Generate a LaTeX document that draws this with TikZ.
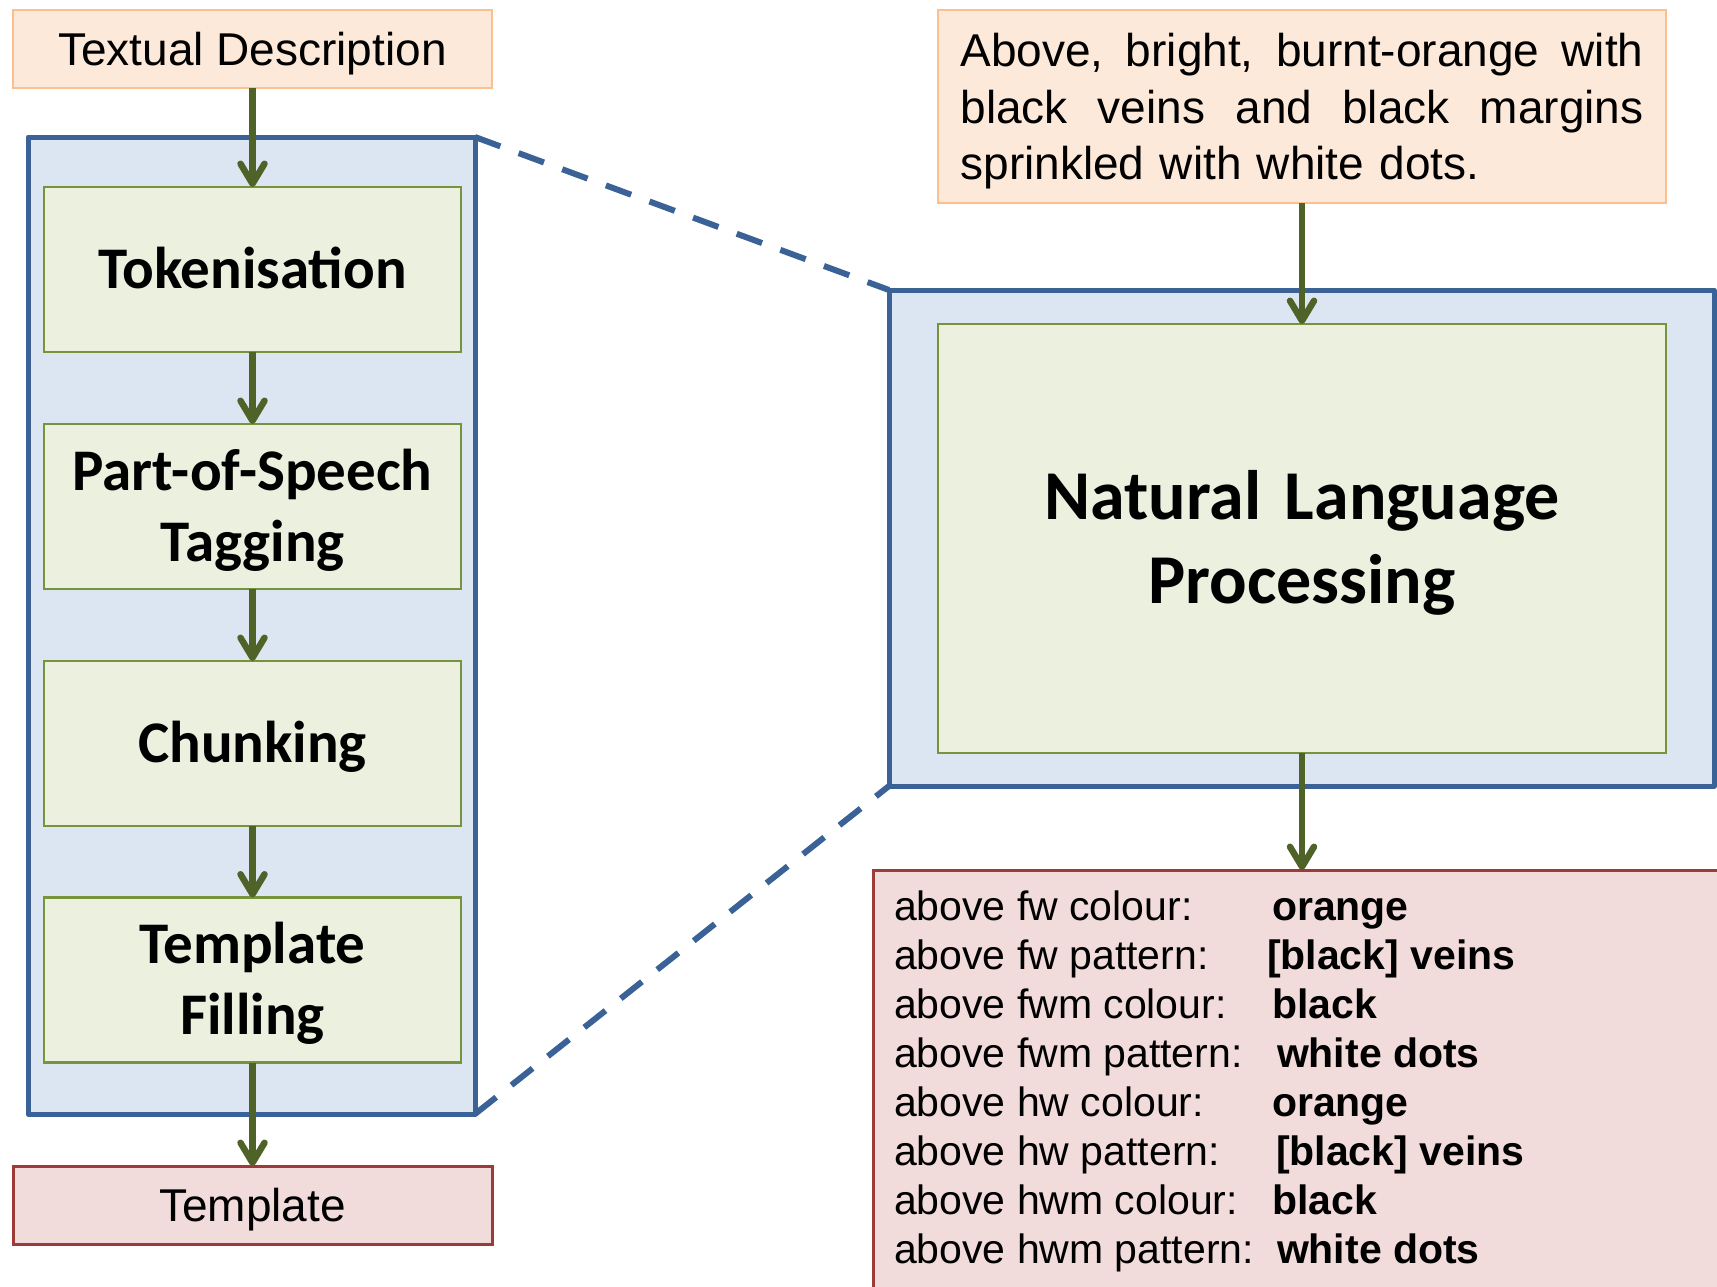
\documentclass[tikz,border=0pt]{standalone}
\usepackage{fontspec}
\setmainfont{Liberation Sans}
\newfontfamily\carlito{Carlito}
\usetikzlibrary{arrows.meta}

\definecolor{peachfill}{HTML}{FDE9D9}
\definecolor{peachdraw}{HTML}{FAC090}
\definecolor{bluefill}{HTML}{DCE6F2}
\definecolor{bluedraw}{HTML}{3A6296}
\definecolor{greenfill}{HTML}{EBF1DE}
\definecolor{greendraw}{HTML}{77933C}
\definecolor{arrowc}{HTML}{4F6228}
\definecolor{redfill}{HTML}{F2DCDB}
\definecolor{reddraw}{HTML}{9C3B38}

\begin{document}
\begin{tikzpicture}[x=1pt, y=-1pt,
  every node/.style={inner sep=0pt, outer sep=0pt},
  peachbox/.style={draw=peachdraw, fill=peachfill, line width=2.5pt},
  panel/.style={draw=bluedraw, fill=bluefill, line width=5pt, line join=round},
  stepbox/.style={draw=greendraw, fill=greenfill, line width=2.5pt,
    minimum width=417pt, minimum height=165pt,
    font=\carlito\bfseries\fontsize{59pt}{71pt}\selectfont},
  oneline/.style={text height=38pt, text depth=0pt},
  twoline/.style={text width=417pt, align=center, text height=38pt, text depth=71pt},
  resultbox/.style={draw=reddraw, fill=redfill, line width=3pt},
  plainlabel/.style={font=\fontsize{46pt}{56.5pt}\selectfont, text height=33pt, text depth=0pt},
  flow/.style={draw=arrowc, line width=6.5pt, -{Straight Barb[length=20pt, width=24pt, round]}},
  zoomline/.style={draw=bluedraw, line width=6pt, dash pattern=on 27pt off 19.5pt},
  field/.style={font=\fontsize{41pt}{49pt}\selectfont, anchor=base west},
]
\useasboundingbox (0,0) rectangle (1717,1286);
\clip (0,0) rectangle (1717,1286);

% background panels
\node[panel, minimum width=447pt, minimum height=977pt] (lbox) at (251.5,625.5) {};
\node[panel, minimum width=825pt, minimum height=496pt] (rbox) at (1301.5,538) {};

% zoom lines between the panels
\draw[zoomline] (lbox.north east) -- (rbox.north west);
\draw[zoomline] (lbox.south east) -- (rbox.south west);

% left column
\node[peachbox, plainlabel, minimum width=479pt, minimum height=78pt] (td) at (252.5,49) {Textual Description};
\node[stepbox, oneline] (tok) at (252.5,269.5) {Tokenisation};
\node[stepbox, twoline] (pos) at (252.5,506.5) {Part-of-Speech\\Tagging};
\node[stepbox, oneline] (chk) at (252.5,743.5) {Chunking};
\node[stepbox, twoline] (tf) at (252.5,980) {Template\\Filling};
\node[resultbox, plainlabel, minimum width=479pt, minimum height=78pt] (tpl) at (252.5,1205) {Template};

% right column
\node[peachbox, font=\fontsize{46pt}{56.5pt}\selectfont, text width=683pt, align=left,
      text height=33pt, text depth=113pt, minimum width=728pt, minimum height=193pt] (dr) at (1302,106.5)
  {\makebox[683pt][s]{Above, \hfill bright, \hfill burnt-orange \hfill with}\\
   \makebox[683pt][s]{black \hfill veins \hfill and \hfill black \hfill margins}\\
   sprinkled with white dots.};
\node[stepbox, font=\carlito\bfseries\fontsize{70pt}{84pt}\selectfont, text width=728pt, align=center,
      text height=45pt, text depth=84pt, minimum width=728pt, minimum height=429pt] (nlp) at (1302,538.5)
  {Natural Language\\Processing};
\node[resultbox, anchor=north west, minimum width=900pt, minimum height=460pt] (out) at (873,870) {};

\foreach \lab/\val/\off [count=\i from 0] in {
  {above fw colour:}/orange/378,
  {above fw pattern:}/{[black] veins}/373,
  {above fwm colour:}/black/378,
  {above fwm pattern:}/{white dots}/383,
  {above hw colour:}/orange/378,
  {above hw pattern:}/{[black] veins}/382,
  {above hwm colour:}/black/378,
  {above hwm pattern:}/{white dots}/383}
  \node[field] (row\i) at (894,{920+49.1*\i}) {\makebox[\off pt][l]{\lab}\textbf{\val}};

% connectors
\draw[flow] (td.south) -- (tok.north);
\draw[flow] (tok.south) -- (pos.north);
\draw[flow] (pos.south) -- (chk.north);
\draw[flow] (chk.south) -- (tf.north);
\draw[flow] (tf.south) -- (tpl.north);
\draw[flow] (dr.south) -- (nlp.north);
\draw[flow] (nlp.south) -- (nlp.south |- out.north);
\end{tikzpicture}
\end{document}
